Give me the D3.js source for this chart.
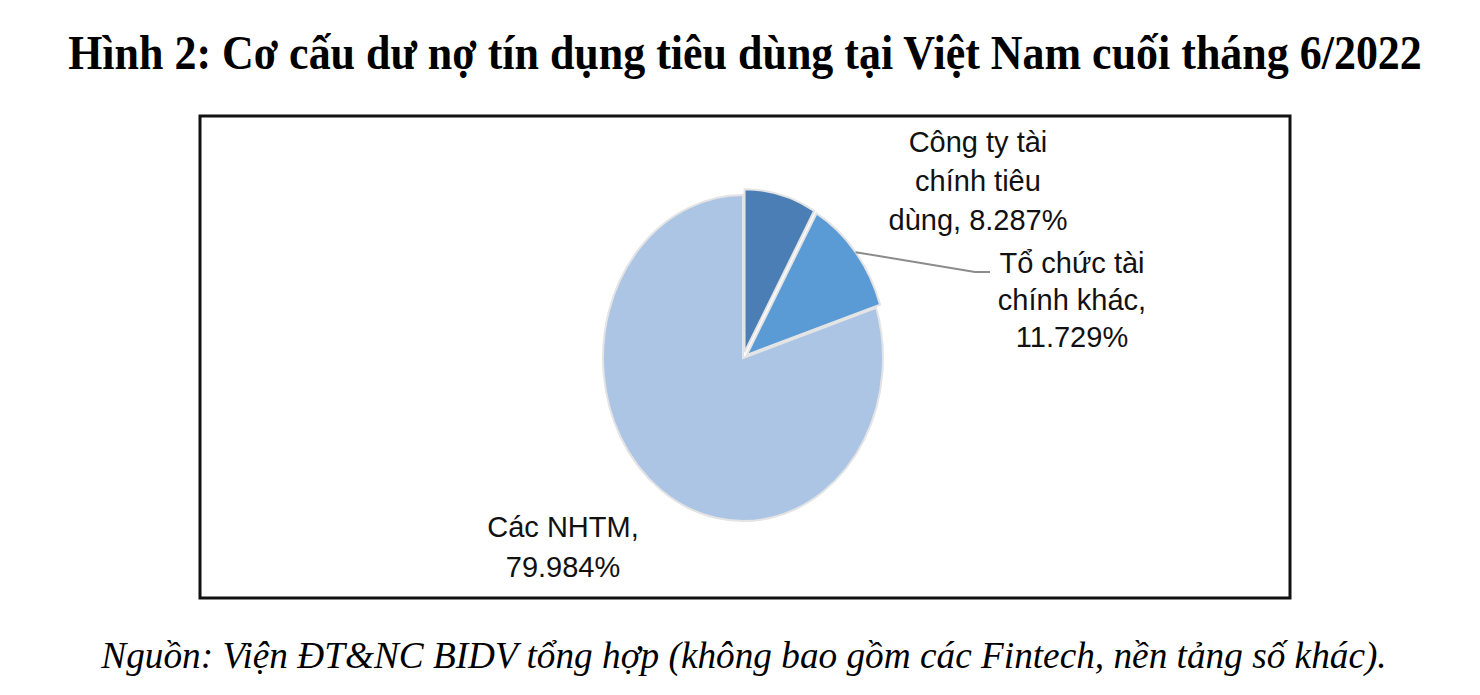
<!DOCTYPE html>
<html>
<head>
<meta charset="utf-8">
<script src="https://cdn.jsdelivr.net/npm/d3@7"></script>
<style>
  html, body { margin: 0; padding: 0; background: #fff; }
  svg { display: block; }
</style>
</head>
<body>
<svg id="chart" width="1480" height="695"></svg>
<script>
// ---- data ----
const categories = ["Công ty tài chính tiêu dùng", "Tổ chức tài chính khác", "Các NHTM"];
const values = [8.287, 11.729, 79.984];
const labelLines = [
  ["Công ty tài", "chính tiêu", "dùng, 8.287%"],
  ["Tổ chức tài", "chính khác,", "11.729%"],
  ["Các NHTM,", "79.984%"]
];
const colors = ["#4a7eb4", "#5b9bd5", "#adc5e5"];
const titleText = "Hình 2: Cơ cấu dư nợ tín dụng tiêu dùng tại Việt Nam cuối tháng 6/2022";
const sourceText = "Nguồn: Viện ĐT&NC BIDV tổng hợp (không bao gồm các Fintech, nền tảng số khác).";

// ---- layout ----
const svg = d3.select("#chart");
const cx = 743, cy = 358, r = 140, sy = 163 / 140;
const explode = [6, 5, 0];
const labelPos = [
  { x: 978, y: 152, dy: 39 },
  { x: 1072, y: 273, dy: 37 },
  { x: 563, y: 537, dy: 40 }
];

// helper: fit a text horizontally to a width with a scale transform
function fitText(sel, cxPos, baseY, width) {
  const w = sel.node().getComputedTextLength();
  const k = width / w;
  sel.attr("x", 0).attr("y", 0)
     .attr("transform", `translate(${cxPos},${baseY}) scale(${k},1)`);
}

// title
const title = svg.append("text")
  .attr("text-anchor", "middle")
  .attr("font-family", "'Liberation Serif', 'Times New Roman', serif")
  .attr("font-weight", "bold")
  .attr("font-size", 48)
  .text(titleText);
fitText(title, 745, 69, 1354);

// frame
svg.append("rect")
  .attr("x", 200).attr("y", 116)
  .attr("width", 1090).attr("height", 482)
  .attr("fill", "none")
  .attr("stroke", "#111")
  .attr("stroke-width", 3);

// pie
const pie = d3.pie().sort(null).value(d => d)(values);
const arc = d3.arc().innerRadius(0).outerRadius(r);

const g = svg.append("g");
pie.slice().reverse().forEach(p => {
  const i = p.index;
  const mid = (p.startAngle + p.endAngle) / 2;
  const ox = Math.sin(mid) * explode[i];
  const oy = -Math.cos(mid) * explode[i];
  g.append("path")
    .attr("d", arc(p))
    .attr("transform", `translate(${cx + ox},${cy + oy}) scale(1,${sy})`)
    .attr("fill", colors[i])
    .attr("stroke", "#e4e4e4")
    .attr("stroke-width", 2)
    .attr("vector-effect", "non-scaling-stroke");
});

// leader line for second slice
{
  const p = pie[1];
  const mid = (p.startAngle + p.endAngle) / 2;
  const x0 = cx + Math.sin(mid) * (r + explode[1]);
  const y0 = cy - Math.cos(mid) * (r * sy + explode[1]);
  svg.append("polyline")
    .attr("points", `${x0},${y0} 975,272 990,272`)
    .attr("fill", "none")
    .attr("stroke", "#8c8c8c")
    .attr("stroke-width", 2);
}

// labels
labelLines.forEach((lines, i) => {
  const t = svg.append("text")
    .attr("text-anchor", "middle")
    .attr("font-family", "'Liberation Sans', Arial, sans-serif")
    .attr("font-size", 29)
    .attr("fill", "#111");
  lines.forEach((ln, k) => {
    t.append("tspan")
      .attr("x", labelPos[i].x)
      .attr("y", labelPos[i].y + k * labelPos[i].dy)
      .text(ln);
  });
});

// source
const src = svg.append("text")
  .attr("text-anchor", "middle")
  .attr("font-family", "'Liberation Serif', 'Times New Roman', serif")
  .attr("font-style", "italic")
  .attr("font-size", 38)
  .text(sourceText);
fitText(src, 744, 668, 1286);
</script>
</body>
</html>
